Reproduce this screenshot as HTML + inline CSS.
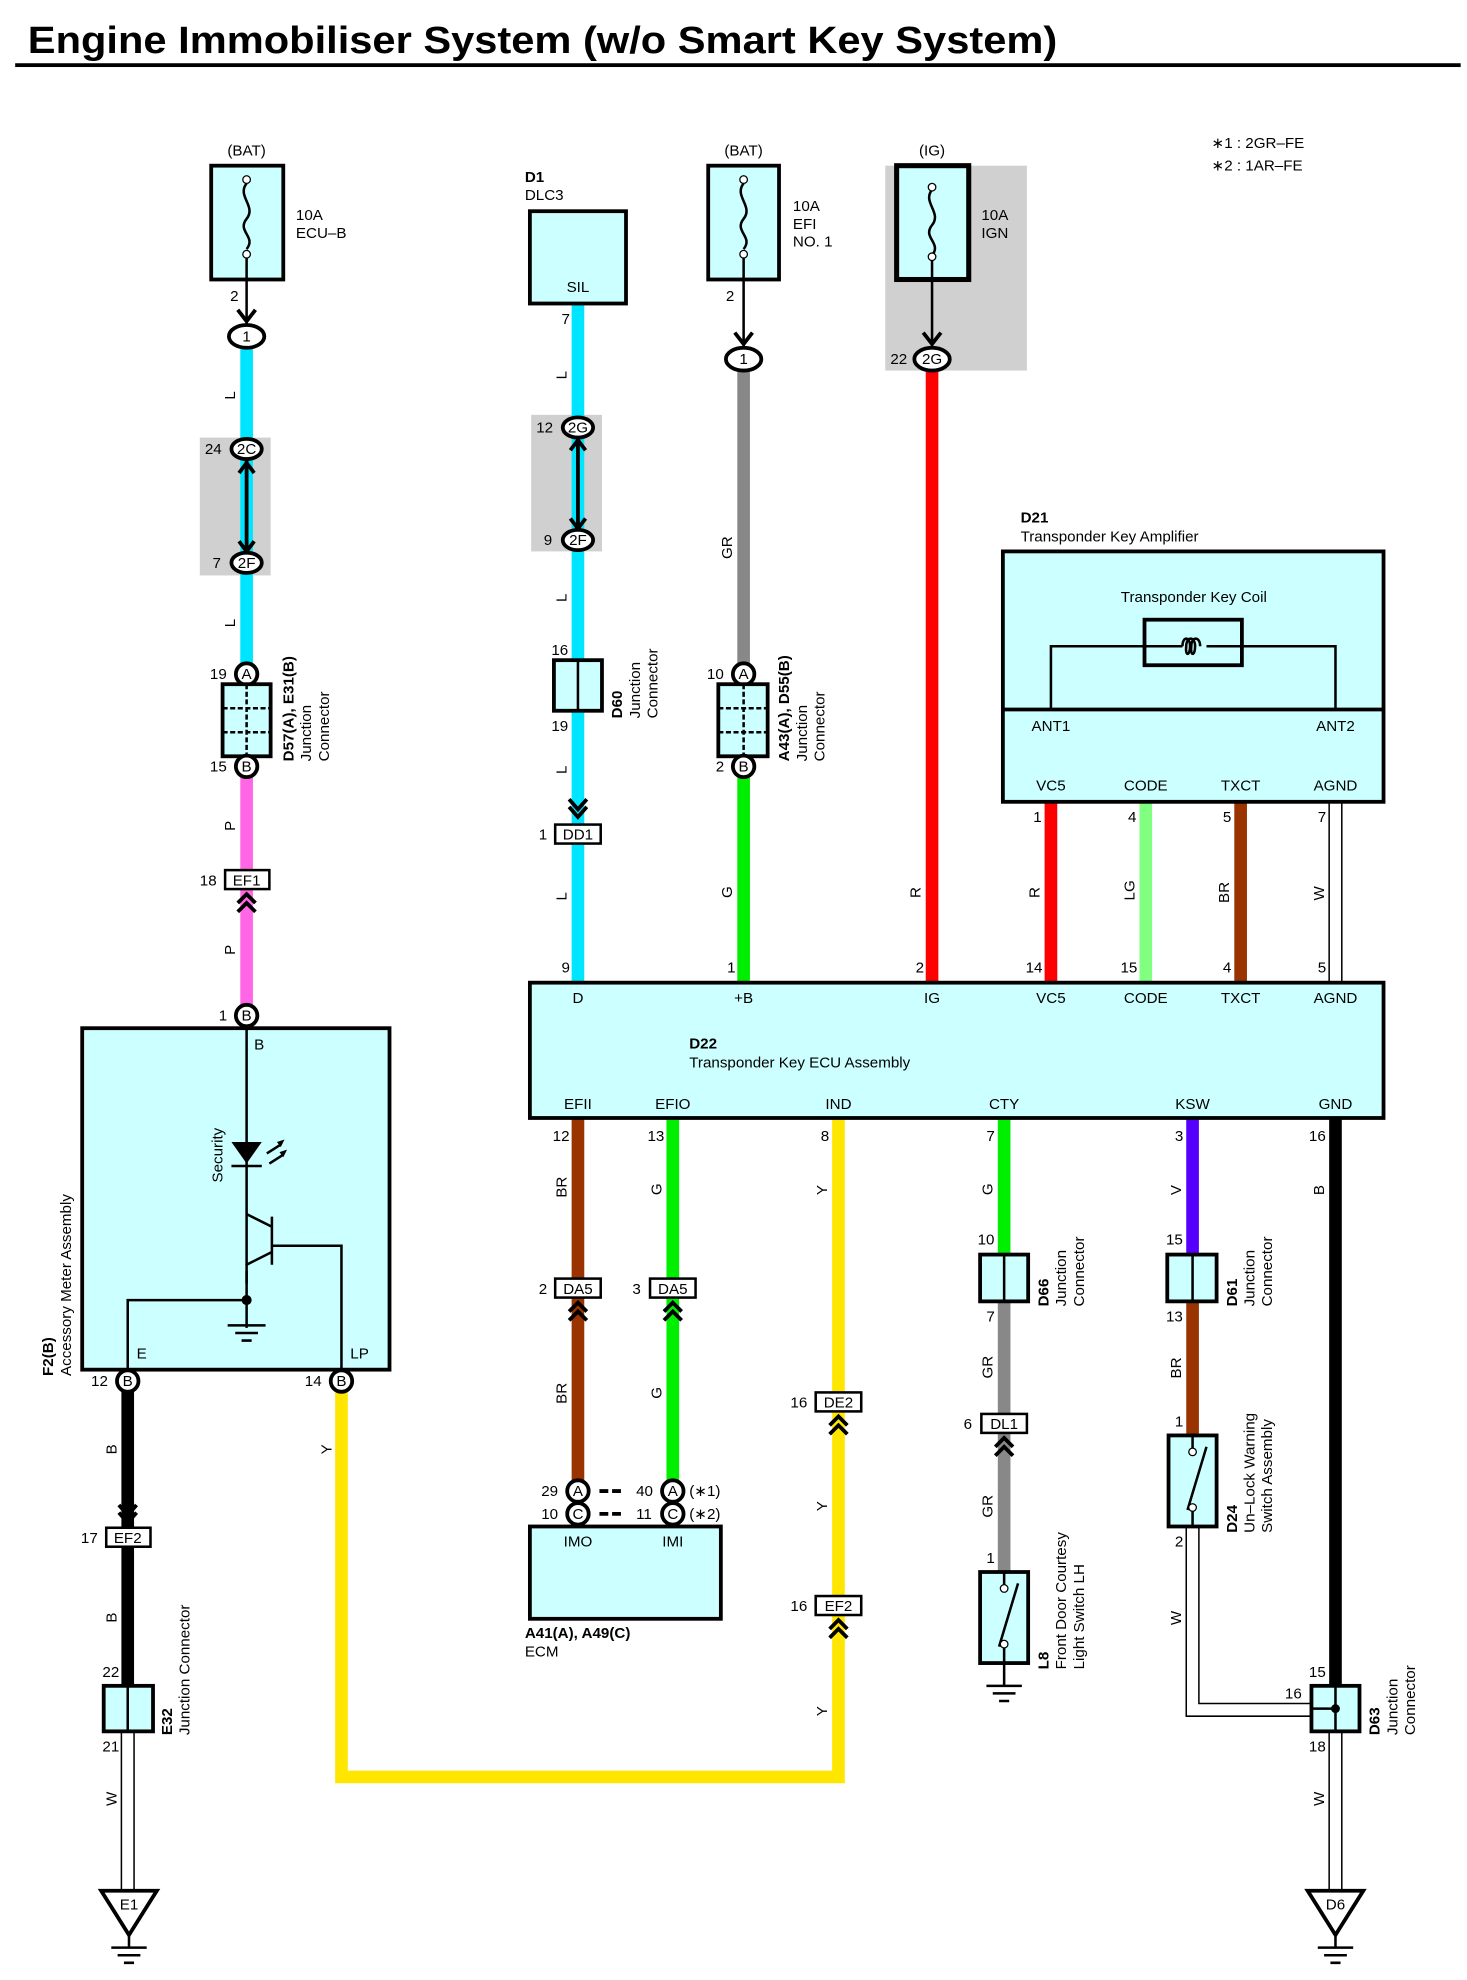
<!DOCTYPE html>
<html><head><meta charset="utf-8"><style>
html,body{margin:0;padding:0;background:#fff}
svg{display:block}
text{font-family:"Liberation Sans",sans-serif;font-size:12px;fill:#000}
.b{font-weight:bold}
.box{fill:#ccffff;stroke:#000;stroke-width:3}
.ln{stroke:#000;stroke-width:2;fill:none}
.pc{fill:#fff;stroke:#000;stroke-width:3}
.cr{fill:#fff;stroke:#000;stroke-width:2}
.ch{stroke:#000;stroke-width:3;fill:none}
.m{text-anchor:middle}
</style></head><body>
<svg width="1467" height="1980" viewBox="0 0 1160 1565.6" preserveAspectRatio="none" xmlns="http://www.w3.org/2000/svg">
<text x="22" y="42" class="b" style="font-size:30px" textLength="814" lengthAdjust="spacingAndGlyphs">Engine Immobiliser System (w/o Smart Key System)</text>
<rect x="12" y="50" width="1143" height="3" fill="#000"/>

<!-- gray backgrounds -->
<rect x="158" y="346" width="56" height="109" fill="#d0d0d0"/>
<rect x="420" y="328" width="56" height="108" fill="#d0d0d0"/>
<rect x="700" y="131" width="112" height="162" fill="#d0d0d0"/>

<!-- wires -->
<rect x="190" y="276" width="10" height="264" fill="#00e5ff"/>
<rect x="190" y="614" width="10" height="188" fill="#ff66e6"/>
<rect x="96" y="1100" width="10" height="235" fill="#000"/>
<path d="M270 1100 V1405 H663 V1280" stroke="#ffe600" stroke-width="10" fill="none"/>
<path d="M663 885 V1280" stroke="#ffe600" stroke-width="10"/>
<rect x="452" y="240" width="10" height="537" fill="#00e5ff"/>
<rect x="583" y="293" width="10" height="240" fill="#888"/>
<rect x="583" y="614" width="10" height="163" fill="#00ee00"/>
<rect x="732" y="293" width="10" height="484" fill="#ff0000"/>
<rect x="826" y="634" width="10" height="143" fill="#ff0000"/>
<rect x="901" y="634" width="10" height="143" fill="#80ff80"/>
<rect x="976" y="634" width="10" height="143" fill="#993300"/>
<rect x="452" y="884" width="10" height="290" fill="#993300"/>
<rect x="527" y="884" width="10" height="290" fill="#00ee00"/>
<rect x="789" y="884" width="10" height="108" fill="#00ee00"/>
<rect x="789" y="1030" width="10" height="213" fill="#888"/>
<rect x="938" y="884" width="10" height="108" fill="#5500ff"/>
<rect x="938" y="1030" width="10" height="105" fill="#993300"/>
<rect x="1051" y="884" width="10" height="450" fill="#000"/>
<!-- white double wires -->
<g stroke="#000" stroke-width="1.2" fill="none">
<path d="M1051 634 V777 M1061 634 V777"/>
<path d="M96 1369 V1495 M106 1369 V1495"/>
<path d="M1051 1369 V1495 M1061 1369 V1495"/>
<path d="M938 1207 V1357 H1050 M948 1207 V1347 H1050"/>
</g>

<!-- fuse ECU-B -->
<text x="195" y="123" class="m">(BAT)</text>
<rect x="167" y="131" width="57" height="90" class="box"/>
<path d="M195 145 c-8 10 8 18 0 28 c-8 10 8 14 0 24" class="ln"/>
<circle cx="195" cy="142" r="3" fill="#fff" stroke="#000"/><circle cx="195" cy="201" r="3" fill="#fff" stroke="#000"/>
<path d="M195 204 V258" class="ln"/>
<text x="234" y="174">10A</text><text x="234" y="188">ECU–B</text>
<text x="182" y="238">2</text>
<path d="M188 245 L195 254 L202 245" class="ch"/>
<ellipse cx="195" cy="266" rx="14" ry="9" class="pc"/><text x="195" y="270" class="m">1</text>
<text x="186" y="316" transform="rotate(-90 186 316)">L</text>
<ellipse cx="195" cy="355" rx="12" ry="8" class="pc"/><text x="195" y="359" class="m">2C</text><text x="162" y="359">24</text>
<path d="M195 364 V436" class="ln" style="stroke-width:3"/>
<path d="M189 374 L195 366 L201 374 M189 428 L195 436 L201 428" class="ch"/>
<ellipse cx="195" cy="445" rx="12" ry="8" class="pc"/><text x="195" y="449" class="m">2F</text><text x="168" y="449">7</text>
<text x="186" y="496" transform="rotate(-90 186 496)">L</text>
<circle cx="195" cy="533" r="8.5" class="pc"/><text x="195" y="537" class="m">A</text><text x="166" y="537">19</text>
<rect x="176" y="541" width="38" height="57" class="box"/>
<path d="M195 541 V598 M176 560 H214 M176 579 H214" class="ln" style="stroke-dasharray:4 2"/>
<circle cx="195" cy="606" r="8.5" class="pc"/><text x="195" y="610" class="m">B</text><text x="166" y="610">15</text>
<text x="232" y="602" transform="rotate(-90 232 602)" class="b">D57(A), E31(B)</text>
<text x="246" y="602" transform="rotate(-90 246 602)">Junction</text>
<text x="260" y="602" transform="rotate(-90 260 602)">Connector</text>
<text x="186" y="657" transform="rotate(-90 186 657)">P</text>
<rect x="178" y="688" width="35" height="15" class="cr"/><text x="195" y="700" class="m">EF1</text><text x="158" y="700">18</text>
<path d="M188 714 L195 707 L202 714 M188 721 L195 714 L202 721" class="ch"/>
<text x="186" y="755" transform="rotate(-90 186 755)">P</text>
<circle cx="195" cy="803" r="8.5" class="pc"/><text x="195" y="807" class="m">B</text><text x="173" y="807">1</text>

<!-- Accessory meter -->
<rect x="65" y="813" width="243" height="270" class="box"/>
<text x="201" y="830">B</text>
<path d="M195 813 V1000 M195 1000 H195" class="ln"/>
<path d="M183 903 H207 L195 920 Z" fill="#000"/><path d="M183 922 H207" class="ln"/>
<path d="M211 912 L222 905 M213 920 L224 913" class="ln"/><path d="M219 903 L225 901 L222 907 Z M221 911 L227 909 L224 915Z" fill="#000"/>
<text x="176" y="935" transform="rotate(-90 176 935)">Security</text>
<path d="M195 960 L215 970 M215 962 V1000 M215 985 H270 V1083 M215 990 L195 1000 V1015 M195 1028 H101 V1083" class="ln"/>
<path d="M195 1005 V1050 M180 1048 H210 M186 1054 H204 M191 1060 H199" class="ln"/>
<circle cx="195" cy="1028" r="4" fill="#000"/>
<text x="108" y="1074">E</text><text x="277" y="1074">LP</text>
<text x="42" y="1088" transform="rotate(-90 42 1088)" class="b">F2(B)</text>
<text x="56" y="1088" transform="rotate(-90 56 1088)">Accessory Meter Assembly</text>
<circle cx="101" cy="1092" r="8.5" class="pc"/><text x="101" y="1096" class="m">B</text><text x="72" y="1096">12</text>
<circle cx="270" cy="1092" r="8.5" class="pc"/><text x="270" y="1096" class="m">B</text><text x="241" y="1096">14</text>
<text x="92" y="1150" transform="rotate(-90 92 1150)">B</text>
<text x="262" y="1150" transform="rotate(-90 262 1150)">Y</text>
<path d="M94 1190 L101 1198 L108 1190 M94 1196 L101 1204 L108 1196" class="ch"/>
<rect x="84" y="1208" width="35" height="15" class="cr"/><text x="101" y="1220" class="m">EF2</text><text x="64" y="1220">17</text>
<text x="92" y="1283" transform="rotate(-90 92 1283)">B</text>
<text x="81" y="1326">22</text>
<rect x="82" y="1333" width="39" height="36" class="box"/><path d="M101 1333 V1369" class="ln"/>
<text x="81" y="1385">21</text>
<text x="136" y="1372" transform="rotate(-90 136 1372)" class="b">E32</text>
<text x="150" y="1372" transform="rotate(-90 150 1372)">Junction Connector</text>
<text x="92" y="1428" transform="rotate(-90 92 1428)">W</text>
<path d="M80 1495 H124 L102 1530 Z" fill="#fff" stroke="#000" stroke-width="3"/><text x="102" y="1510" class="m">E1</text>
<path d="M102 1530 V1540 M88 1540 H116 M93 1546 H111 M98 1552 H106" class="ln"/>

<!-- DLC3 -->
<text x="415" y="144" class="b">D1</text><text x="415" y="158">DLC3</text>
<rect x="419" y="167" width="76" height="73" class="box"/><text x="457" y="231" class="m">SIL</text>
<text x="444" y="256">7</text>
<text x="448" y="300" transform="rotate(-90 448 300)">L</text>
<ellipse cx="457" cy="338" rx="12" ry="8" class="pc"/><text x="457" y="342" class="m">2G</text><text x="424" y="342">12</text>
<path d="M457 346 V418" class="ln" style="stroke-width:3"/>
<path d="M451 356 L457 348 L463 356 M451 410 L457 418 L463 410" class="ch"/>
<ellipse cx="457" cy="427" rx="12" ry="8" class="pc"/><text x="457" y="431" class="m">2F</text><text x="430" y="431">9</text>
<text x="448" y="476" transform="rotate(-90 448 476)">L</text>
<text x="436" y="518">16</text>
<rect x="438" y="522" width="38" height="40" class="box"/><path d="M457 522 V562" class="ln"/>
<text x="436" y="578">19</text>
<text x="492" y="568" transform="rotate(-90 492 568)" class="b">D60</text>
<text x="506" y="568" transform="rotate(-90 506 568)">Junction</text>
<text x="520" y="568" transform="rotate(-90 520 568)">Connector</text>
<text x="448" y="612" transform="rotate(-90 448 612)">L</text>
<path d="M450 632 L457 640 L464 632 M450 638 L457 646 L464 638" class="ch"/>
<rect x="439" y="652" width="36" height="15" class="cr"/><text x="457" y="664" class="m">DD1</text><text x="426" y="664">1</text>
<text x="448" y="712" transform="rotate(-90 448 712)">L</text>
<text x="444" y="769">9</text>

<!-- EFI fuse -->
<text x="588" y="123" class="m">(BAT)</text>
<rect x="560" y="131" width="56" height="90" class="box"/>
<path d="M588 145 c-8 10 8 18 0 28 c-8 10 8 14 0 24" class="ln"/>
<circle cx="588" cy="142" r="3" fill="#fff" stroke="#000"/><circle cx="588" cy="201" r="3" fill="#fff" stroke="#000"/>
<path d="M588 204 V276" class="ln"/>
<text x="627" y="167">10A</text><text x="627" y="181">EFI</text><text x="627" y="195">NO. 1</text>
<text x="574" y="238">2</text>
<path d="M581 263 L588 272 L595 263" class="ch"/>
<ellipse cx="588" cy="284" rx="14" ry="9" class="pc"/><text x="588" y="288" class="m">1</text>
<text x="579" y="442" transform="rotate(-90 579 442)">GR</text>
<circle cx="588" cy="533" r="8.5" class="pc"/><text x="588" y="537" class="m">A</text><text x="559" y="537">10</text>
<rect x="568" y="541" width="39" height="57" class="box"/>
<path d="M588 541 V598 M568 560 H607 M568 579 H607" class="ln" style="stroke-dasharray:4 2"/>
<circle cx="588" cy="606" r="8.5" class="pc"/><text x="588" y="610" class="m">B</text><text x="566" y="610">2</text>
<text x="624" y="602" transform="rotate(-90 624 602)" class="b">A43(A), D55(B)</text>
<text x="638" y="602" transform="rotate(-90 638 602)">Junction</text>
<text x="652" y="602" transform="rotate(-90 652 602)">Connector</text>
<text x="579" y="710" transform="rotate(-90 579 710)">G</text>
<text x="575" y="769">1</text>

<!-- IGN fuse -->
<text x="737" y="123" class="m">(IG)</text>
<rect x="709" y="131" width="57" height="90" class="box" style="stroke-width:4"/>
<path d="M737 150 c-8 10 8 18 0 28 c-8 10 8 14 0 24" class="ln"/>
<circle cx="737" cy="148" r="3" fill="#fff" stroke="#000"/><circle cx="737" cy="203" r="3" fill="#fff" stroke="#000"/>
<path d="M737 206 V276" class="ln"/>
<text x="776" y="174">10A</text><text x="776" y="188">IGN</text>
<path d="M730 263 L737 272 L744 263" class="ch"/>
<ellipse cx="737" cy="284" rx="14" ry="9" class="pc"/><text x="737" y="288" class="m">2G</text><text x="704" y="288">22</text>
<text x="728" y="710" transform="rotate(-90 728 710)">R</text>
<text x="724" y="769">2</text>

<text x="958" y="117">∗1 : 2GR–FE</text><text x="958" y="135">∗2 : 1AR–FE</text>

<!-- D21 -->
<text x="807" y="413" class="b">D21</text><text x="807" y="428">Transponder Key Amplifier</text>
<rect x="793" y="436" width="301" height="198" class="box"/>
<path d="M793 561 H1094" stroke="#000" stroke-width="3"/>
<text x="944" y="476" class="m">Transponder Key Coil</text>
<rect x="905" y="490" width="77" height="36" fill="none" stroke="#000" stroke-width="3"/>
<path d="M831 561 V511 H935 M954 511 H1056 V561" class="ln"/>
<path d="M935 511 c0 -8 6 -8 6 0 c0 8 -4 8 -3 0 c0 -8 7 -8 7 0 c0 8 -4 8 -3 0 c0 -8 7 -8 7 0" class="ln"/>
<text x="831" y="578" class="m">ANT1</text><text x="1056" y="578" class="m">ANT2</text>
<text x="831" y="625" class="m">VC5</text><text x="906" y="625" class="m">CODE</text><text x="981" y="625" class="m">TXCT</text><text x="1056" y="625" class="m">AGND</text>
<text x="817" y="650">1</text><text x="892" y="650">4</text><text x="967" y="650">5</text><text x="1042" y="650">7</text>
<text x="822" y="710" transform="rotate(-90 822 710)">R</text>
<text x="897" y="712" transform="rotate(-90 897 712)">LG</text>
<text x="972" y="714" transform="rotate(-90 972 714)">BR</text>
<text x="1047" y="712" transform="rotate(-90 1047 712)">W</text>
<text x="811" y="769">14</text><text x="886" y="769">15</text><text x="967" y="769">4</text><text x="1042" y="769">5</text>

<!-- D22 -->
<rect x="419" y="777" width="675" height="107" class="box"/>
<text x="457" y="793" class="m">D</text><text x="588" y="793" class="m">+B</text><text x="737" y="793" class="m">IG</text>
<text x="831" y="793" class="m">VC5</text><text x="906" y="793" class="m">CODE</text><text x="981" y="793" class="m">TXCT</text><text x="1056" y="793" class="m">AGND</text>
<text x="545" y="829" class="b">D22</text><text x="545" y="844">Transponder Key ECU Assembly</text>
<text x="457" y="877" class="m">EFII</text><text x="532" y="877" class="m">EFIO</text><text x="663" y="877" class="m">IND</text>
<text x="794" y="877" class="m">CTY</text><text x="943" y="877" class="m">KSW</text><text x="1056" y="877" class="m">GND</text>
<text x="437" y="902">12</text><text x="512" y="902">13</text><text x="649" y="902">8</text><text x="780" y="902">7</text><text x="929" y="902">3</text><text x="1035" y="902">16</text>

<text x="448" y="947" transform="rotate(-90 448 947)">BR</text>
<text x="523" y="945" transform="rotate(-90 523 945)">G</text>
<text x="654" y="945" transform="rotate(-90 654 945)">Y</text>
<text x="785" y="945" transform="rotate(-90 785 945)">G</text>
<text x="934" y="945" transform="rotate(-90 934 945)">V</text>
<text x="1047" y="945" transform="rotate(-90 1047 945)">B</text>

<rect x="439" y="1011" width="36" height="15" class="cr"/><text x="457" y="1023" class="m">DA5</text><text x="426" y="1023">2</text>
<path d="M450 1037 L457 1030 L464 1037 M450 1044 L457 1037 L464 1044" class="ch"/>
<rect x="514" y="1011" width="36" height="15" class="cr"/><text x="532" y="1023" class="m">DA5</text><text x="500" y="1023">3</text>
<path d="M525 1037 L532 1030 L539 1037 M525 1044 L532 1037 L539 1044" class="ch"/>
<text x="448" y="1110" transform="rotate(-90 448 1110)">BR</text>
<text x="523" y="1106" transform="rotate(-90 523 1106)">G</text>
<circle cx="457" cy="1179" r="8.5" class="pc"/><text x="457" y="1183" class="m">A</text><text x="428" y="1183">29</text>
<circle cx="457" cy="1197" r="8.5" class="pc"/><text x="457" y="1201" class="m">C</text><text x="428" y="1201">10</text>
<circle cx="532" cy="1179" r="8.5" class="pc"/><text x="532" y="1183" class="m">A</text><text x="503" y="1183">40</text>
<circle cx="532" cy="1197" r="8.5" class="pc"/><text x="532" y="1201" class="m">C</text><text x="503" y="1201">11</text>
<path d="M474 1179 H493 M474 1197 H493" stroke="#000" stroke-width="3" stroke-dasharray="7 3"/>
<text x="545" y="1183">(∗1)</text><text x="545" y="1201">(∗2)</text>
<rect x="419" y="1207" width="151" height="73" class="box"/>
<text x="457" y="1223" class="m">IMO</text><text x="532" y="1223" class="m">IMI</text>
<text x="415" y="1295" class="b">A41(A), A49(C)</text><text x="415" y="1310">ECM</text>

<rect x="645" y="1101" width="36" height="15" class="cr"/><text x="663" y="1113" class="m">DE2</text><text x="625" y="1113">16</text>
<path d="M656 1127 L663 1120 L670 1127 M656 1134 L663 1127 L670 1134" class="ch"/>
<text x="654" y="1195" transform="rotate(-90 654 1195)">Y</text>
<rect x="645" y="1262" width="36" height="15" class="cr"/><text x="663" y="1274" class="m">EF2</text><text x="625" y="1274">16</text>
<path d="M656 1288 L663 1281 L670 1288 M656 1295 L663 1288 L670 1295" class="ch"/>
<text x="654" y="1357" transform="rotate(-90 654 1357)">Y</text>

<!-- D66, L8 -->
<text x="773" y="984">10</text>
<rect x="775" y="992" width="38" height="37" class="box"/><path d="M794 992 V1029" class="ln"/>
<text x="780" y="1045">7</text>
<text x="829" y="1033" transform="rotate(-90 829 1033)" class="b">D66</text>
<text x="843" y="1033" transform="rotate(-90 843 1033)">Junction</text>
<text x="857" y="1033" transform="rotate(-90 857 1033)">Connector</text>
<text x="785" y="1090" transform="rotate(-90 785 1090)">GR</text>
<rect x="776" y="1118" width="36" height="15" class="cr"/><text x="794" y="1130" class="m">DL1</text><text x="762" y="1130">6</text>
<path d="M787 1144 L794 1137 L801 1144 M787 1151 L794 1144 L801 1151" class="ch"/>
<text x="785" y="1200" transform="rotate(-90 785 1200)">GR</text>
<text x="780" y="1236">1</text>
<rect x="775" y="1243" width="38" height="72" class="box"/>
<path d="M794 1243 V1256 M794 1300 V1315 M790 1302 L805 1252" class="ln"/>
<circle cx="794" cy="1256" r="3" fill="#fff" stroke="#000"/><circle cx="794" cy="1300" r="3" fill="#fff" stroke="#000"/>
<path d="M794 1315 V1333 M780 1333 H808 M785 1339 H803 M790 1345 H798" class="ln"/>
<text x="829" y="1320" transform="rotate(-90 829 1320)" class="b">L8</text>
<text x="843" y="1320" transform="rotate(-90 843 1320)">Front Door Courtesy</text>
<text x="857" y="1320" transform="rotate(-90 857 1320)">Light Switch LH</text>

<!-- D61, D24 -->
<text x="922" y="984">15</text>
<rect x="923" y="992" width="39" height="37" class="box"/><path d="M943 992 V1029" class="ln"/>
<text x="922" y="1045">13</text>
<text x="978" y="1033" transform="rotate(-90 978 1033)" class="b">D61</text>
<text x="992" y="1033" transform="rotate(-90 992 1033)">Junction</text>
<text x="1006" y="1033" transform="rotate(-90 1006 1033)">Connector</text>
<text x="934" y="1090" transform="rotate(-90 934 1090)">BR</text>
<text x="929" y="1128">1</text>
<rect x="924" y="1135" width="38" height="72" class="box"/>
<path d="M943 1135 V1148 M943 1192 V1207 M939 1194 L954 1144" class="ln"/>
<circle cx="943" cy="1148" r="3" fill="#fff" stroke="#000"/><circle cx="943" cy="1192" r="3" fill="#fff" stroke="#000"/>
<text x="929" y="1223">2</text>
<text x="978" y="1212" transform="rotate(-90 978 1212)" class="b">D24</text>
<text x="992" y="1212" transform="rotate(-90 992 1212)">Un–Lock Warning</text>
<text x="1006" y="1212" transform="rotate(-90 1006 1212)">Switch Assembly</text>
<text x="934" y="1285" transform="rotate(-90 934 1285)">W</text>

<!-- D63, D6 -->
<text x="1035" y="1326">15</text>
<rect x="1037" y="1333" width="38" height="36" class="box"/>
<path d="M1056 1333 V1369 M1037 1351 H1056" class="ln"/><circle cx="1056" cy="1351" r="3.5" fill="#000"/>
<text x="1016" y="1343">16</text>
<text x="1035" y="1385">18</text>
<text x="1091" y="1372" transform="rotate(-90 1091 1372)" class="b">D63</text>
<text x="1105" y="1372" transform="rotate(-90 1105 1372)">Junction</text>
<text x="1119" y="1372" transform="rotate(-90 1119 1372)">Connector</text>
<text x="1047" y="1428" transform="rotate(-90 1047 1428)">W</text>
<path d="M1034 1495 H1078 L1056 1530 Z" fill="#fff" stroke="#000" stroke-width="3"/><text x="1056" y="1510" class="m">D6</text>
<path d="M1056 1530 V1540 M1042 1540 H1070 M1047 1546 H1065 M1052 1552 H1060" class="ln"/>
</svg>
</body></html>
